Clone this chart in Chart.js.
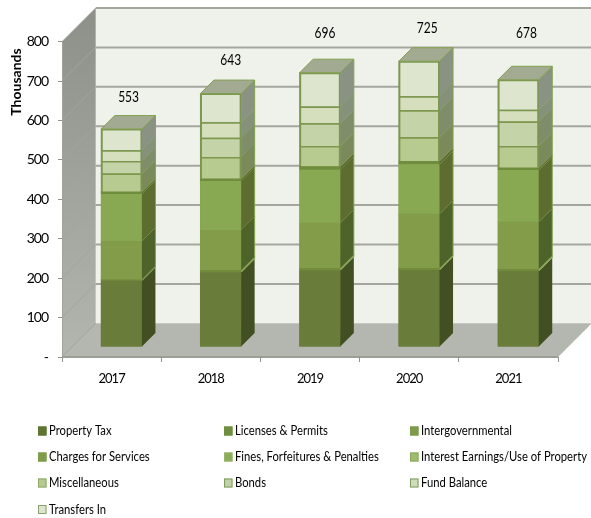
<!DOCTYPE html>
<html>
<head>
<meta charset="utf-8">
<style>html,body{margin:0;padding:0;background:#fff;overflow:hidden}#wrap{width:591px;height:518px}canvas{display:block}</style>
<script src="https://cdn.jsdelivr.net/npm/chart.js@4"></script>
</head>
<body>
<div id="wrap"><canvas id="c" width="591" height="518"></canvas></div>
<script>
const years = ['2017','2018','2019','2020','2021'];
const seriesNames = ['Property Tax','Licenses & Permits','Intergovernmental','Charges for Services','Fines, Forfeitures & Penalties','Interest Earnings/Use of Property','Miscellaneous','Bonds','Fund Balance','Transfers In'];
const propertyTax = [168,189,194,195,192];
const licenses = [2,4,4,3,4];
const intergovernmental = [1,2,2,2,2];
const charges = [98,102,115,138,120];
const fines = [119,124,135,126,131];
const interest = [6,6,8,8,6];
const miscellaneous = [46,55,52,60,55];
const bonds = [32,49,58,69,62];
const fundBalance = [27,39,42,35,30];
const transfersIn = [54,73,86,89,76];
const totals = [553,643,696,725,678];
const labelNudgeX = [7,10,5,8,8];
const labelNudgeY = [32,33,40,33,47];

const seriesValues = [propertyTax,licenses,intergovernmental,charges,fines,interest,miscellaneous,bonds,fundBalance,transfersIn];
const frontColors = ['#697c39','#728a3c','#728a3c','#839c49','#88a852','#6f8d3c','#b7ca8f','#c4d4a8','#d5dfbe','#dde5cf'];
const edgeColors = ['#697c39','#728a3c','#728a3c','#7f9a48','#84a44f','#6f8d3c','#7d974c','#7d974e','#7d9750','#7d9750'];
const edgeWidths = [0,0,0,0,0,0,1.5,1.5,1.5,1.5];
const sideColors = ['#414f22','#86a44a','#86a44a','#4e6329','#5d6c2f','#5d6c2f','#7a8a5b','#7f8d6b','#85917a','#8a9284'];
const swatchColors = ['#5f7530','#6f8f3e','#7e9a4a','#7f9c4b','#8cad58','#9fbc6c','#b5ca90','#c1d2a6','#cfdcbb','#dce5cd'];
const swatchEdges = ['#5f7530','#6f8f3e','#7e9a4a','#7f9c4b','#9ab56a','#8aa75a','#8fa86a','#7f9a60','#7f9a60','#8aa070'];

const FONT = 'Lato,sans-serif';
const WALL = 33.7, SHIFT = 10, DEPTH = 13.5;

function squeezedText(ctx, text, x, y, sx) {
  ctx.save();
  ctx.translate(x, y);
  ctx.scale(sx, 1);
  ctx.fillText(text, 0, 0);
  ctx.restore();
}

const scene = {
  id: 'scene',
  beforeDraw(chart) {
    const {ctx, scales:{x, y}} = chart;
    const L = x.left, R = x.right, T = y.top, B = y.bottom;
    ctx.save();
    ctx.fillStyle = '#eef2ea';
    ctx.fillRect(L+WALL, T-WALL, R-L, B-T);
    const g = ctx.createLinearGradient(0, T-WALL, 0, B);
    g.addColorStop(0, '#8d8f89'); g.addColorStop(1, '#b3b5af');
    ctx.fillStyle = g;
    ctx.beginPath();
    ctx.moveTo(L,T); ctx.lineTo(L+WALL,T-WALL); ctx.lineTo(L+WALL,B-WALL); ctx.lineTo(L,B); ctx.closePath(); ctx.fill();
    ctx.fillStyle = '#b4b7b0';
    ctx.beginPath();
    ctx.moveTo(L,B); ctx.lineTo(L+WALL,B-WALL); ctx.lineTo(R+WALL,B-WALL); ctx.lineTo(R,B); ctx.closePath(); ctx.fill();
    y.ticks.forEach(t => {
      const p = y.getPixelForValue(t.value);
      if (t.value > 0) {
        ctx.strokeStyle = '#a5a79f'; ctx.lineWidth = 2;
        ctx.beginPath(); ctx.moveTo(L+WALL,p-WALL); ctx.lineTo(R+WALL,p-WALL); ctx.stroke();
      }
      ctx.strokeStyle = '#a2a49d'; ctx.lineWidth = 1;
      ctx.beginPath(); ctx.moveTo(L,p); ctx.lineTo(L+WALL,p-WALL); ctx.stroke();
    });
    ctx.strokeStyle = '#d4d6d0'; ctx.lineWidth = 1;
    ctx.beginPath(); ctx.moveTo(R,B); ctx.lineTo(R+WALL,B-WALL); ctx.stroke();
    ctx.strokeStyle = '#9c9e98'; ctx.lineWidth = 2;
    ctx.beginPath(); ctx.moveTo(L,B); ctx.lineTo(R,B); ctx.stroke();
    ctx.restore();
    ctx.letterSpacing = '-1px';
  },
  beforeDatasetsDraw(chart) {
    const ctx = chart.ctx;
    ctx.letterSpacing = '0px';
    ctx.save();
    ctx.translate(SHIFT, -SHIFT);
    // solid underlay so thin segments keep their own colour and the front keeps a firm outline
    chart.data.datasets.forEach((ds, i) => {
      chart.getDatasetMeta(i).data.forEach(el => {
        ctx.fillStyle = edgeColors[i];
        ctx.fillRect(el.x - el.width/2 - 0.5, el.y - 0.5, el.width + 1, el.base - el.y + 0.5);
      });
    });
  },
  afterDatasetsDraw(chart) {
    const ctx = chart.ctx;
    const last = chart.data.datasets.length - 1;
    chart.data.datasets.forEach((ds, i) => {
      chart.getDatasetMeta(i).data.forEach(el => {
        const r = el.x + el.width/2;
        ctx.fillStyle = sideColors[i];
        ctx.strokeStyle = '#83a04e';
        ctx.lineWidth = 1;
        ctx.beginPath();
        ctx.moveTo(r, el.y); ctx.lineTo(r+DEPTH, el.y-DEPTH);
        ctx.lineTo(r+DEPTH, el.base-DEPTH); ctx.lineTo(r, el.base); ctx.closePath();
        ctx.fill();
        if (i > 0) {
          ctx.beginPath(); ctx.moveTo(r, el.y); ctx.lineTo(r+DEPTH, el.y-DEPTH); ctx.lineTo(r+DEPTH, el.base-DEPTH); ctx.stroke();
        }
        if (i === last) {
          const l = el.x - el.width/2;
          ctx.fillStyle = '#a3aa92';
          ctx.beginPath();
          ctx.moveTo(l, el.y); ctx.lineTo(l+DEPTH, el.y-DEPTH);
          ctx.lineTo(r+DEPTH, el.y-DEPTH); ctx.lineTo(r, el.y); ctx.closePath();
          ctx.fill(); ctx.stroke();
        }
      });
    });
    ctx.restore();
  },
  afterDraw(chart) {
    const {ctx, scales:{x, y}} = chart;
    ctx.save();
    ctx.letterSpacing = '0px';
    ctx.fillStyle = '#000';
    ctx.textAlign = 'center'; ctx.textBaseline = 'middle';
    ctx.font = '15px ' + FONT;
    totals.forEach((v, i) => {
      const px = x.getPixelForValue(i) + SHIFT + labelNudgeX[i];
      const py = y.getPixelForValue(v) - SHIFT - labelNudgeY[i];
      squeezedText(ctx, String(v), px, py, 0.8);
    });
    ctx.save();
    ctx.translate(16, 82);
    ctx.rotate(-Math.PI/2);
    ctx.font = 'bold 14px ' + FONT;
    ctx.fillText('Thousands', 0, 0);
    ctx.restore();
    const colX = [38, 224, 410], rowY = [431, 457, 483, 509.5];
    ctx.textAlign = 'left';
    ctx.font = '13.5px ' + FONT;
    const sx = 166 / ctx.measureText(seriesNames[5]).width;
    seriesNames.forEach((name, i) => {
      const cx = colX[i % 3], cy = rowY[Math.floor(i / 3)];
      ctx.fillStyle = swatchColors[i];
      ctx.fillRect(cx, cy-4.5, 8.5, 9);
      ctx.strokeStyle = swatchEdges[i]; ctx.lineWidth = 1;
      ctx.strokeRect(cx+.5, cy-4, 7.5, 8);
      ctx.fillStyle = '#000';
      squeezedText(ctx, name, cx+11, cy, sx);
    });
    ctx.restore();
  }
};

new Chart(document.getElementById('c'), {
  type: 'bar',
  data: {
    labels: years,
    datasets: seriesNames.map((name, i) => ({
      label: name,
      data: seriesValues[i],
      backgroundColor: frontColors[i],
      borderColor: edgeColors[i],
      borderWidth: edgeWidths[i],
      categoryPercentage: 1,
      barPercentage: 0.41,
      clip: false
    }))
  },
  options: {
    responsive: false,
    animation: false,
    layout: { padding: { top: 41.7, right: 33, left: 0, bottom: 0 } },
    plugins: { legend: { display: false }, tooltip: { enabled: false } },
    scales: {
      x: {
        stacked: true,
        grid: { drawOnChartArea: false, drawTicks: true, tickLength: 5, color: '#8f918a', offset: true },
        border: { display: false },
        ticks: { color: '#000', padding: 9, maxRotation: 0, font: { family: FONT, size: 13 } },
        afterFit(s) { s.height = 161; }
      },
      y: {
        stacked: true,
        min: 0, max: 800,
        afterBuildTicks(s) { s.ticks = [0,100,200,300,400,500,600,700,800].map(v => ({ value: v })); },
        grid: { drawOnChartArea: false, drawTicks: true, tickLength: 4, color: '#8f918a' },
        border: { display: true, color: '#a0a29c', width: 1 },
        ticks: { color: '#000', padding: 10, font: { family: FONT, size: 14 }, callback: v => v === 0 ? '-' : String(v) },
        afterFit(s) { s.width = 62; }
      }
    }
  },
  plugins: [scene]
});
</script>
</body>
</html>
